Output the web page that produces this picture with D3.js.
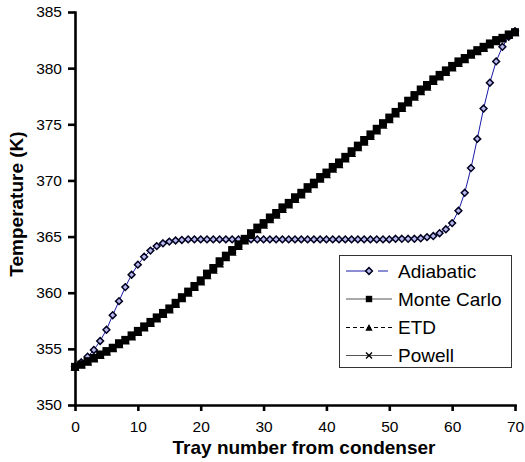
<!DOCTYPE html>
<meta charset="utf-8">
<style>
 body { margin: 0; background: #fff; }
 svg text { font-family: Arial, "Liberation Sans", sans-serif; }
 .axis path, .axis line { stroke: #000; stroke-width: 2.6px; }
 .axis text { font-size: 15.5px; fill: #000; font-family: Arial, "Liberation Sans", sans-serif; }
 .title { font-size: 19px; font-weight: bold; }
 .legend text { font-size: 19px; }
</style>
<body>
<script src="https://cdn.jsdelivr.net/npm/d3@7"></script>
<script>

 var trays = d3.range(0, 71);

 var adiabatic = [353.4, 353.8, 354.3, 354.9, 355.7, 356.7, 358.0, 359.25, 360.5, 361.6,
                  362.5, 363.2, 363.75, 364.15, 364.4, 364.55, 364.65, 364.7, 364.75, 364.75,
                  364.75, 364.75, 364.75, 364.75, 364.75, 364.75, 364.75, 364.75, 364.75, 364.75,
                  364.75, 364.75, 364.75, 364.75, 364.75, 364.75, 364.75, 364.75, 364.75, 364.75,
                  364.75, 364.75, 364.75, 364.75, 364.75, 364.75, 364.75, 364.75, 364.75, 364.75,
                  364.75, 364.8, 364.8, 364.8, 364.8, 364.85, 364.95, 365.05, 365.3, 365.65,
                  366.2, 367.3, 368.9, 371.1, 373.7, 376.4, 378.7, 380.6, 381.9, 382.8,
                  383.3];

 var monteCarlo = [353.4, 353.6, 353.9, 354.2, 354.5, 354.8, 355.1, 355.5, 355.8, 356.2,
                   356.6, 357.0, 357.4, 357.8, 358.2, 358.6, 359.1, 359.6, 360.1, 360.6,
                   361.1, 361.7, 362.2, 362.8, 363.3, 363.8, 364.3, 364.8, 365.3, 365.8,
                   366.2, 366.7, 367.1, 367.6, 368.0, 368.5, 368.9, 369.4, 369.8, 370.3,
                   370.7, 371.2, 371.6, 372.1, 372.6, 373.1, 373.6, 374.1, 374.6, 375.1,
                   375.6, 376.1, 376.6, 377.1, 377.6, 378.1, 378.5, 379.0, 379.4, 379.8,
                   380.2, 380.6, 380.9, 381.3, 381.6, 381.9, 382.2, 382.5, 382.7, 383.0,
                   383.2];

 var etd = [353.4, 353.6, 353.85, 354.15, 354.45, 354.75, 355.05, 355.4, 355.75, 356.1,
            356.5, 356.9, 357.3, 357.7, 358.1, 358.5, 359.0, 359.5, 360.0, 360.5,
            361.0, 361.55, 362.05, 362.6, 363.15, 363.65, 364.15, 364.65, 365.15, 365.65,
            366.05, 366.55, 366.95, 367.45, 367.85, 368.35, 368.75, 369.25, 369.65, 370.15,
            370.55, 371.05, 371.45, 371.95, 372.45, 372.95, 373.45, 373.95, 374.45, 374.95,
            375.45, 375.95, 376.45, 376.95, 377.45, 377.95, 378.35, 378.85, 379.25, 379.65,
            380.05, 380.45, 380.8, 381.2, 381.5, 381.8, 382.1, 382.4, 382.65, 382.95,
            383.2];

 var powell = [353.4, 353.6, 353.9, 354.2, 354.5, 354.8, 355.1, 355.5, 355.8, 356.2,
               356.6, 357.0, 357.4, 357.8, 358.2, 358.6, 359.1, 359.6, 360.1, 360.6,
               361.1, 361.7, 362.2, 362.8, 363.3, 363.8, 364.3, 364.8, 365.3, 365.8,
               366.2, 366.7, 367.1, 367.6, 368.0, 368.5, 368.9, 369.4, 369.8, 370.3,
               370.7, 371.2, 371.6, 372.1, 372.6, 373.1, 373.6, 374.1, 374.6, 375.1,
               375.6, 376.1, 376.6, 377.1, 377.6, 378.1, 378.5, 379.0, 379.4, 379.8,
               380.2, 380.6, 380.9, 381.3, 381.6, 381.9, 382.2, 382.5, 382.7, 383.0,
               383.2];

 var xTicks = [0, 10, 20, 30, 40, 50, 60, 70];
 var yTicks = [350, 355, 360, 365, 370, 375, 380, 385];
 var seriesNames = ["Adiabatic", "Monte Carlo", "ETD", "Powell"];

 var width = 525, height = 462;

 var xScale = d3.scaleLinear().domain([0, 70]).range([75, 515]);
 var yScale = d3.scaleLinear().domain([350, 385]).range([405, 12]);

 var svg = d3.select("body").append("svg")
             .attr("width", width)
             .attr("height", height);

 // axes
 svg.append("g")
    .attr("class", "axis")
    .attr("transform", "translate(0,405)")
    .call(d3.axisBottom(xScale).tickValues(xTicks).tickSize(6).tickSizeOuter(0).tickPadding(10))
    .call(g => g.selectAll("text").attr("dy", "0.71em"));

 svg.append("g")
    .attr("class", "axis")
    .attr("transform", "translate(75,0)")
    .call(d3.axisLeft(yScale).tickValues(yTicks).tickSize(7).tickSizeOuter(0).tickPadding(6));

 svg.selectAll(".axis").attr("font-family", null).attr("font-size", null);
 svg.selectAll(".axis .domain").attr("stroke-linecap", "square");

 svg.append("text")
    .attr("class", "title")
    .attr("x", 304)
    .attr("y", 454)
    .attr("text-anchor", "middle")
    .text("Tray number from condenser");

 svg.append("text")
    .attr("class", "title")
    .attr("transform", "translate(23,204) rotate(-90)")
    .attr("text-anchor", "middle")
    .text("Temperature (K)");

 var chart = svg.append("g");

 function lineFor(values) {
     return d3.line()
              .x(function(d, i) { return xScale(trays[i]); })
              .y(function(d) { return yScale(d); })(values);
 }

 // marker drawers
 function diamond(g, x, y) {
     g.append("path")
      .attr("d", "M" + x + "," + (y - 3.4) + "L" + (x + 3.4) + "," + y + "L" + x + "," + (y + 3.4) + "L" + (x - 3.4) + "," + y + "Z")
      .attr("fill", "#b8b8ec")
      .attr("stroke", "#000020")
      .attr("stroke-width", 1.5);
 }
 function square(g, x, y) {
     g.append("rect")
      .attr("x", x - 4).attr("y", y - 4)
      .attr("width", 8).attr("height", 8)
      .attr("fill", "#000");
 }
 function triangle(g, x, y) {
     g.append("path")
      .attr("d", "M" + x + "," + (y - 4.5) + "L" + (x + 4.5) + "," + (y + 4) + "L" + (x - 4.5) + "," + (y + 4) + "Z")
      .attr("fill", "#000");
 }
 function cross(g, x, y) {
     g.append("path")
      .attr("d", "M" + (x - 3) + "," + (y - 3) + "L" + (x + 3) + "," + (y + 3) + "M" + (x + 3) + "," + (y - 3) + "L" + (x - 3) + "," + (y + 3))
      .attr("stroke", "#000")
      .attr("stroke-width", 1.4);
 }

 var series = [
     {values: adiabatic, color: "#1a1aa8", width: 1, dash: null, marker: diamond},
     {values: monteCarlo, color: "#000", width: 1, dash: null, marker: square},
     {values: etd, color: "#000", width: 1, dash: "4,3", marker: triangle},
     {values: powell, color: "#000", width: 1, dash: null, marker: cross}
 ];

 series.forEach(function(s) {
     chart.append("path")
          .attr("d", lineFor(s.values))
          .attr("fill", "none")
          .attr("stroke", s.color)
          .attr("stroke-width", s.width)
          .attr("stroke-dasharray", s.dash);
     var mg = chart.append("g");
     s.values.forEach(function(v, i) {
         s.marker(mg, xScale(trays[i]), yScale(v));
     });
 });

 // legend
 var legend = svg.append("g").attr("class", "legend");
 legend.append("rect")
       .attr("x", 339.5).attr("y", 255.5)
       .attr("width", 172).attr("height", 112)
       .attr("fill", "#fff")
       .attr("stroke", "#333")
       .attr("stroke-width", 1);

 var legendY = [271, 299, 327.5, 355.5];
 var legendStroke = ["#1a1aa8", "#555", "#000", "#555"];
 var legendMarkerScale = [1, 0.8, 0.8, 1];
 seriesNames.forEach(function(name, i) {
     var y = legendY[i];
     var g = legend.append("g");
     if (i === 0) {
         g.append("line").attr("x1", 346).attr("x2", 366).attr("y1", y).attr("y2", y)
          .attr("stroke", legendStroke[i]).attr("stroke-width", 1);
         g.append("line").attr("x1", 378).attr("x2", 388).attr("y1", y).attr("y2", y)
          .attr("stroke", legendStroke[i]).attr("stroke-width", 1);
     } else {
         g.append("line").attr("x1", 346).attr("x2", 392).attr("y1", y).attr("y2", y)
          .attr("stroke", legendStroke[i]).attr("stroke-width", 1)
          .attr("stroke-dasharray", series[i].dash);
     }
     var mk = g.append("g")
               .attr("transform", "translate(369," + y + ") scale(" + legendMarkerScale[i] + ")");
     series[i].marker(mk, 0, 0);
     g.append("text")
      .attr("x", 398).attr("y", y)
      .attr("dy", "0.35em")
      .text(name);
 });

</script>
